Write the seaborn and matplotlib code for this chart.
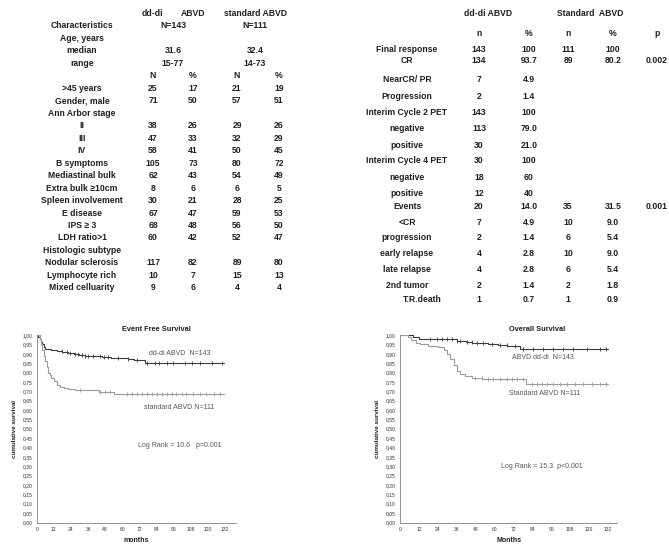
import numpy as np
import pandas as pd
import matplotlib
matplotlib.use("Agg")
import matplotlib.pyplot as plt
from matplotlib.ticker import FuncFormatter
import seaborn as sns

sns.set_theme(style="white")
plt.rcParams['font.family'] = ['Liberation Sans', 'DejaVu Sans']

W, H = 669, 557

# ---------------- baseline characteristics table ----------------
char_labels = [">45 years", "Gender, male", "Ann Arbor stage", "II", "III", "IV",
               "B symptoms", "Mediastinal bulk", "Extra bulk \u226510cm",
               "Spleen involvement", "E disease", "IPS \u2265 3", "LDH ratio>1",
               "Histologic subtype", "Nodular sclerosis", "Lymphocyte rich",
               "Mixed celluarity"]
ddi_n = ["25", "71", "", "38", "47", "58", "105", "62", "8", "30", "67", "68", "60", "", "117", "10", "9"]
ddi_pct = ["17", "50", "", "26", "33", "41", "73", "43", "6", "21", "47", "48", "42", "", "82", "7", "6"]
std_n = ["21", "57", "", "29", "32", "50", "80", "54", "6", "28", "59", "56", "52", "", "89", "15", "4"]
std_pct = ["19", "51", "", "26", "29", "45", "72", "49", "5", "25", "53", "50", "47", "", "80", "13", "4"]
age_median = ["31.6", "32.4"]
age_range = ["15-77", "14-73"]
arm_n = ["N=143", "N=111"]

# ---------------- response / events table ----------------
resp_labels = ["Final response", "CR", "NearCR/ PR", "Progression", "Interim Cycle 2 PET",
               "negative", "positive", "Interim Cycle 4 PET", "negative", "positive",
               "Events", "<CR", "progression", "early relapse", "late relapse",
               "2nd tumor", "T.R.death"]
resp_ddi_n = ["143", "134", "7", "2", "143", "113", "30", "30", "18", "12",
              "20", "7", "2", "4", "4", "2", "1"]
resp_ddi_pct = ["100", "93.7", "4.9", "1.4", "100", "79.0", "21.0", "100", "60", "40",
                "14.0", "4.9", "1.4", "2.8", "2.8", "1.4", "0.7"]
resp_std_n = ["111", "89", "", "", "", "", "", "", "", "",
              "35", "10", "6", "10", "6", "2", "1"]
resp_std_pct = ["100", "80.2", "", "", "", "", "", "", "", "",
                "31.5", "9.0", "5.4", "9.0", "5.4", "1.8", "0.9"]
resp_p = ["", "0.002", "", "", "", "", "", "", "", "",
          "0.001", "", "", "", "", "", ""]

# ---------------- Kaplan-Meier curves ----------------
efs_ddi_t = [0, 1, 2, 3, 4, 5, 6, 10, 14, 18, 22, 26, 30, 34, 46, 52, 64, 68, 76, 131]
efs_ddi_s = [1.0, 0.99, 0.98, 0.965, 0.95, 0.935, 0.925, 0.92, 0.915, 0.91, 0.905,
             0.90, 0.895, 0.888, 0.884, 0.878, 0.872, 0.866, 0.85, 0.85]
efs_ddi_cens = [17.5, 21, 23.4, 26.8, 29, 31.5, 34, 36.2, 39.7, 44.4, 47, 50.2, 57.2,
                64.2, 70.1, 77.1, 82.9, 86, 91.1, 95.8, 103.9, 108.6, 114.5, 122.7, 129.7]

efs_std_t = [0, 2, 3, 4, 5, 6, 7, 8, 9, 10, 12, 14, 16, 19, 22, 27, 44, 54, 131]
efs_std_s = [1.0, 0.98, 0.95, 0.92, 0.89, 0.86, 0.83, 0.80, 0.785, 0.77, 0.755,
             0.735, 0.725, 0.717, 0.71, 0.705, 0.697, 0.688, 0.688]
efs_std_cens = [30.3, 44.4, 47.9, 51.4, 63, 66.6, 70, 73.6, 77, 80.6, 84, 87.6, 91,
                94.6, 98, 101.6, 105, 109.8, 114.5, 119, 124, 128.5]

os_ddi_t = [0, 8, 12, 20, 36, 42, 46, 56, 62, 68, 76, 132]
os_ddi_s = [1.0, 0.99, 0.98, 0.977, 0.97, 0.962, 0.955, 0.95, 0.945, 0.94, 0.925, 0.925]
os_ddi_cens = [19, 23.3, 26.4, 29.6, 32.8, 36, 38, 42.3, 45.5, 48.7, 52.9, 58.2, 63.5,
               67.7, 73, 78.2, 84.6, 91, 97.3, 103.6, 110, 118.5, 127, 131]

os_std_t = [0, 5, 7, 10, 13, 18, 24, 28, 30, 32, 34, 36, 38, 41, 46, 52, 80, 132]
os_std_s = [1.0, 0.99, 0.975, 0.96, 0.95, 0.94, 0.935, 0.92, 0.90, 0.87, 0.84, 0.81,
            0.79, 0.78, 0.77, 0.765, 0.74, 0.74]
os_std_cens = [47.6, 51.8, 56, 59.2, 63.5, 67.7, 70.9, 74, 78.2, 83.5, 86.7, 89.9, 93,
               97.3, 101.5, 105.8, 111, 116.3, 121.6, 127, 131]

DARK = "#3c3c3c"
LIGHT = "#9c9c9c"
TXT = "#1e1e1e"

fig = plt.figure(figsize=(W / 100, H / 100), dpi=100)


def put(x, y, s, size=6.2, weight="bold", color=TXT, ha="center"):
    # place text in pixel coordinates of the reference
    fig.text(x / W, 1 - y / H, s, fontsize=size, fontweight=weight, color=color,
             ha=ha, va="center")


# left table
put(152, 14, "dd-di")
put(193, 14, "ABVD")
put(256, 14, "standard ABVD")
step = 12.47
put(82, 26, "Characteristics")
put(173, 26, arm_n[0])
put(255, 26, arm_n[1])
put(82, 26 + step, "Age, years")
put(82, 26 + 2 * step, "median")
put(173, 26 + 2 * step, age_median[0])
put(255, 26 + 2 * step, age_median[1])
put(82, 26 + 3 * step, "range")
put(173, 26 + 3 * step, age_range[0])
put(255, 26 + 3 * step, age_range[1])
cols_left = [153, 193, 237, 279]
for cx, h in zip(cols_left, ["N", "%", "N", "%"]):
    put(cx, 26 + 4 * step, h)
for i, lab in enumerate(char_labels):
    y = 26 + (5 + i) * step
    put(82, y, lab)
    for cx, v in zip(cols_left, [ddi_n[i], ddi_pct[i], std_n[i], std_pct[i]]):
        if v:
            put(cx, y, v)

# right table
put(488, 13.5, "dd-di ABVD")
put(590, 13.5, "Standard  ABVD")
cols_right = [479, 529, 568, 613, 657]
for cx, h in zip(cols_right, ["n", "%", "n", "%", "p"]):
    put(cx, 33, h)
resp_y = [50, 61, 80, 96.7, 112.7, 128.3, 145, 161, 177.7, 193.3,
          206.7, 222.3, 237.7, 253.3, 270, 285, 300]
for i, lab in enumerate(resp_labels):
    y = resp_y[i]
    put(422 if lab == "T.R.death" else 407, y, lab)
    vals = [resp_ddi_n[i], resp_ddi_pct[i], resp_std_n[i], resp_std_pct[i], resp_p[i]]
    for cx, v in zip(cols_right, vals):
        if v:
            put(cx, y, v)


def km_panel(rect, curves, xmax, title, title_x, xlabel, notes):
    ax = fig.add_axes(rect)
    for t, s, cens, color in curves:
        df = pd.DataFrame({"month": t, "surv": s})
        sns.lineplot(data=df, x="month", y="surv", drawstyle="steps-post",
                     color=color, lw=0.8, estimator=None, sort=False, ax=ax)
        s_arr = np.asarray(s)
        cy = s_arr[np.searchsorted(t, cens, side="right") - 1]
        sns.scatterplot(x=cens, y=cy, marker="|", color=color, s=7,
                        linewidth=0.6, ax=ax)
    ax.set_xlim(0, xmax)
    ax.set_ylim(0, 1.003)
    ax.set_xticks(range(0, 133, 12))
    ax.set_yticks(np.arange(0, 1.0001, 0.05))
    ax.yaxis.set_major_formatter(FuncFormatter(lambda v, p: f"{v:.2f}".replace(".", ",")))
    ax.tick_params(axis="both", direction="out", length=1.8, width=0.4,
                   labelsize=3.6, colors="#444", pad=1.2)
    ax.tick_params(axis="both", labelcolor="#333")
    sns.despine(ax=ax)
    for sp in ["left", "bottom"]:
        ax.spines[sp].set_linewidth(0.5)
        ax.spines[sp].set_color("#666")
    ax.set_xlabel(xlabel, fontsize=5, fontweight="bold", color=TXT, labelpad=3.5)
    ax.set_ylabel("cumulative survival", fontsize=4.5, fontweight="bold", color=TXT,
                  labelpad=4)
    ax.text(title_x, 1.027, title, transform=ax.transAxes, fontsize=5.3,
            fontweight="bold", color=TXT, ha="center", va="center")
    for x, y, s in notes:
        ax.text(x, y, s, fontsize=5, color="#555", ha="center", va="center")
    ax.set_facecolor("white")
    return ax


km_panel([36.7 / W, (H - 522.5) / H, 140 * 1.4265 / W, 188 / H],
         [(efs_ddi_t, efs_ddi_s, efs_ddi_cens, DARK),
          (efs_std_t, efs_std_s, efs_std_cens, LIGHT)],
         140, "Event Free Survival", 0.6, "months",
         [(100, 0.90, "dd-di ABVD  N=143"),
          (100, 0.614, "standard ABVD N=111"),
          (100, 0.41, "Log Rank = 10.6   p=0.001")])

km_panel([400 / W, (H - 522.5) / H, 138 * 1.576 / W, 188 / H],
         [(os_ddi_t, os_ddi_s, os_ddi_cens, DARK),
          (os_std_t, os_std_s, os_std_cens, LIGHT)],
         138, "Overall Survival", 0.63, "Months",
         [(91, 0.878, "ABVD dd-di  N=143"),
          (92, 0.686, "Standard ABVD N=111"),
          (90, 0.297, "Log Rank = 15.3  p<0.001")])

fig.savefig("out.png", dpi=100)
